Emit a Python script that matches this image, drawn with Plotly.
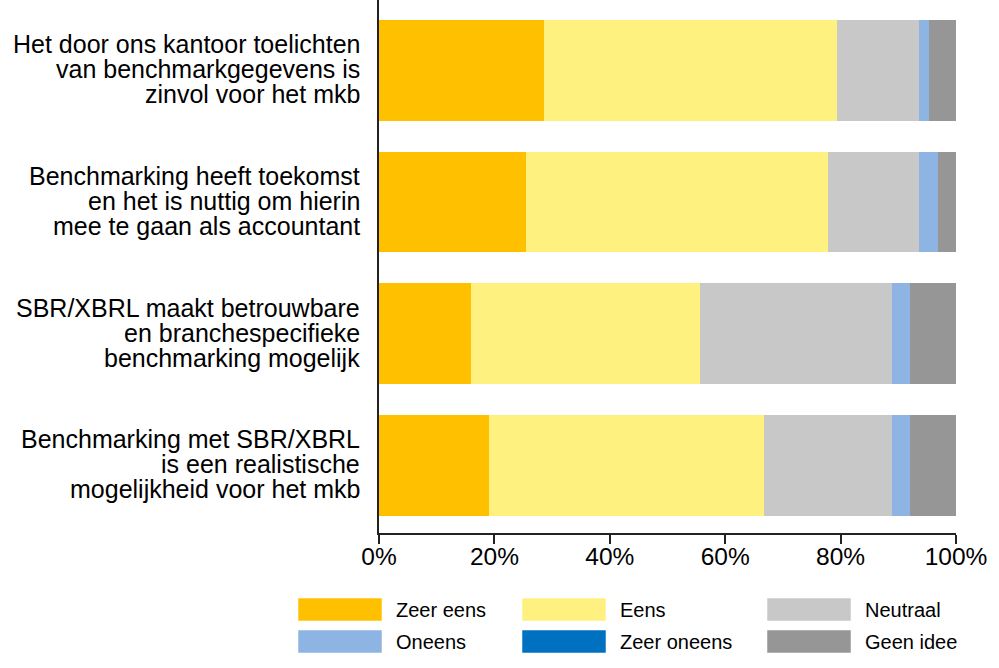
import plotly.graph_objects as go

# ---- data (percentages) ----
categories = [
    "Het door ons kantoor toelichten<br>van benchmarkgegevens is<br>zinvol voor het mkb",
    "Benchmarking heeft toekomst<br>en het is nuttig om hierin<br>mee te gaan als accountant",
    "SBR/XBRL maakt betrouwbare<br>en branchespecifieke<br>benchmarking mogelijk",
    "Benchmarking met SBR/XBRL<br>is een realistische<br>mogelijkheid voor het mkb",
]
series_names = ["Zeer eens", "Eens", "Neutraal", "Oneens", "Zeer oneens", "Geen idee"]
zeer_eens = [28.57, 25.40, 15.87, 19.05]
eens = [50.79, 52.38, 39.68, 47.62]
neutraal = [14.29, 15.87, 33.33, 22.22]
oneens = [1.59, 3.17, 3.17, 3.17]
zeer_oneens = [0, 0, 0, 0]
geen_idee = [4.76, 3.17, 7.94, 7.94]
series_values = [zeer_eens, eens, neutraal, oneens, zeer_oneens, geen_idee]
colors = ["#FFC000", "#FFF17F", "#C8C8C8", "#8EB4E3", "#0070C0", "#969696"]
x_ticks = [0, 20, 40, 60, 80, 100]
x_ticklabels = ["0%", "20%", "40%", "60%", "80%", "100%"]

FONT = "Liberation Sans, Arial, sans-serif"
W, H = 999, 668
L, R, T, B = 379, 43, 0, 135
PW, PH = W - L - R, H - T - B

fig = go.Figure()
ids = list(range(len(categories)))
for name, vals, col in zip(series_names, series_values, colors):
    fig.add_trace(go.Bar(
        y=ids, x=vals, name=name, orientation="h",
        marker=dict(color=col, line=dict(width=0)),
        showlegend=False,
    ))

def px_x(p):
    return (p - L) / PW

def px_y(p):
    return (H - B - p) / PH

annotations = []
# category labels, one annotation per line for tight line spacing
line_h = 25
for i, cat in enumerate(categories):
    lines = cat.split("<br>")
    n = len(lines)
    for j, ln in enumerate(lines):
        annotations.append(dict(
            x=px_x(362), xref="paper", y=i, yref="y",
            text=ln, showarrow=False, xanchor="right", yanchor="middle",
            yshift=((n - 1) / 2 - j) * line_h + 1,
            font=dict(family=FONT, size=25, color="black"),
        ))

# custom legend (3 columns x 2 rows)
col_x = [298, 522, 767]
row_y = [598, 630]
shapes = []
for k, (name, col) in enumerate(zip(series_names, colors)):
    r, c = divmod(k, 3)
    x0 = col_x[c]
    y0 = row_y[r]
    shapes.append(dict(
        type="rect", xref="paper", yref="paper",
        x0=px_x(x0), x1=px_x(x0 + 84), y0=px_y(y0 + 23), y1=px_y(y0),
        fillcolor=col, line=dict(width=1, color="rgba(255,255,255,0.5)"),
    ))
    annotations.append(dict(
        x=px_x(x0 + 96), xref="paper", y=px_y(y0 + 11.5), yref="paper",
        text=name, showarrow=False, xanchor="left", yanchor="middle",
        font=dict(family=FONT, size=20, color="black"),
    ))

fig.update_layout(
    width=W, height=H,
    margin=dict(l=L, r=R, t=T, b=B, pad=0),
    barmode="stack", bargap=0.232,
    plot_bgcolor="white", paper_bgcolor="white",
    font=dict(family=FONT, size=24, color="black"),
    xaxis=dict(
        range=[0, 100], tickvals=x_ticks, ticktext=x_ticklabels,
        showgrid=False, zeroline=False, showline=True, linewidth=1.6,
        linecolor="#222", ticks="outside", ticklen=9, tickwidth=1.6,
        tickcolor="#222", tickfont=dict(family=FONT, size=24.5, color="black"),
        ticklabelstandoff=-8,
        fixedrange=True,
    ),
    yaxis=dict(
        range=[3.517, -0.536], showticklabels=False, showgrid=False,
        zeroline=False, showline=True, linewidth=1.6, linecolor="#222",
        ticks="", fixedrange=True,
    ),
    annotations=annotations,
    shapes=shapes,
)

fig.write_html("out.html")
